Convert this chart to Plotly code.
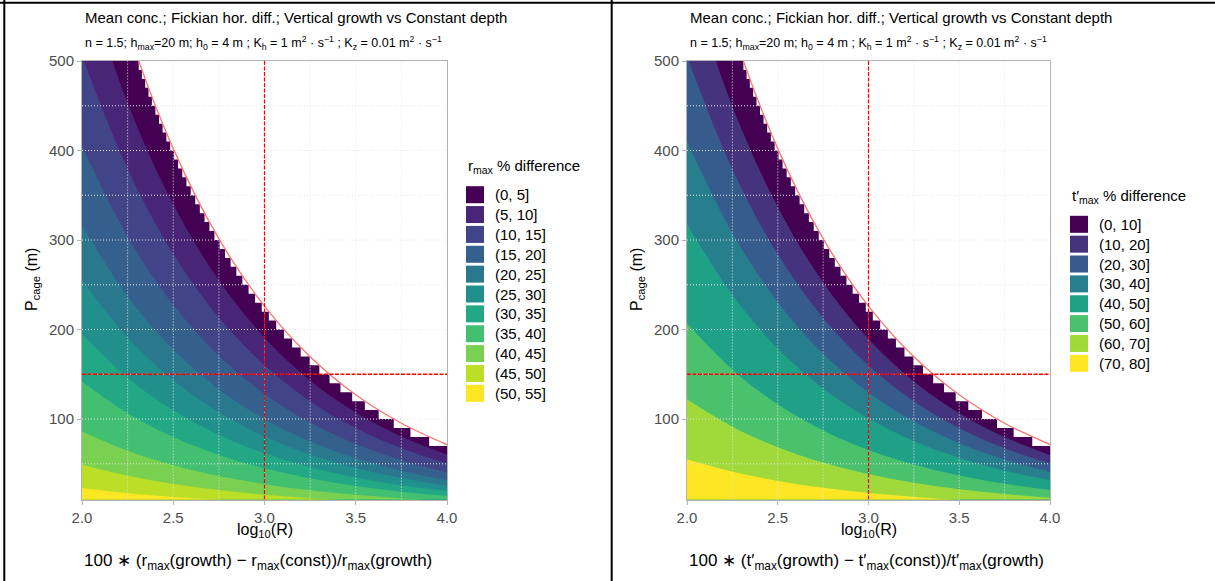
import numpy as np
import plotly.graph_objects as go

W, H = 1215, 581
FONT = "Liberation Sans, Arial, sans-serif"

# ---------------- data ----------------
X_RANGE = [2.0, 4.0]
P_RANGE = [10, 500]
X_TICKS = [2.0, 2.5, 3.0, 3.5, 4.0]
X_TICK_TEXT = ["2.0", "2.5", "3.0", "3.5", "4.0"]
P_TICKS = [100, 200, 300, 400, 500]
GRID_X = [2.25, 2.5, 2.75, 3.0, 3.25, 3.5, 3.75]
GRID_P = [50, 100, 150, 200, 250, 300, 350, 400, 450]
P_GRID_STEP = 10          # row height of the computation grid (staircase)
REF_X = 3.0               # dashed red reference lines
REF_P = 150

# x positions where band boundaries were read
X_PTS = [2.0, 2.25, 2.5, 2.75, 3.0, 3.25, 3.5, 3.75, 4.0]

# validity limit (red curve), P_cage at X_PTS
RED_P = [715, 536.2, 402.1, 301.5, 226.1, 169.6, 127.1, 95.3, 71.5]

# left panel: r_max % difference band boundaries (P_cage at X_PTS)
RMAX_B05 = [604, 453, 340, 255, 191, 143, 107.4, 80.5, 60.4]
RMAX_B10 = [506, 379.4, 284.5, 213.4, 160, 120, 90, 67.5, 50.6]
RMAX_B15 = [405, 303.7, 227.7, 170.8, 128.1, 96.0, 72.0, 54.0, 40.5]
RMAX_B20 = [316, 237.0, 177.7, 133.3, 99.9, 74.9, 56.2, 42.1, 31.6]
RMAX_B25 = [255, 191.2, 143.4, 107.5, 80.6, 60.5, 45.3, 34.0, 25.5]
RMAX_B30 = [195, 146.2, 109.7, 82.2, 61.7, 46.2, 34.7, 26.0, 19.5]
RMAX_B35 = [142, 106.5, 79.9, 59.9, 44.9, 33.7, 25.3, 18.9, 14.2]
RMAX_B40 = [86, 64.5, 48.4, 36.3, 27.2, 20.4, 15.3, 11.5, 8.6]
RMAX_B45 = [48.8, 36.6, 27.4, 20.6, 15.4, 11.6, 8.7, 6.5, 4.9]
RMAX_B50 = [23.0, 17.2, 12.9, 9.7, 7.3, 5.5, 4.1, 3.1, 2.3]
RMAX_LABELS = ["(0, 5]", "(5, 10]", "(10, 15]", "(15, 20]", "(20, 25]", "(25, 30]",
               "(30, 35]", "(35, 40]", "(40, 45]", "(45, 50]", "(50, 55]"]
RMAX_COLORS = ["#440154", "#482576", "#414487", "#35608D", "#2A788E", "#21908C",
               "#22A884", "#43BF71", "#7AD151", "#BBDF27", "#FDE725"]

# right panel: t'_max % difference band boundaries (P_cage at X_PTS)
TMAX_B10 = [599, 449.2, 336.8, 252.6, 189.4, 142.0, 106.5, 79.9, 59.9]
TMAX_B20 = [505, 378.7, 284.0, 213.0, 159.7, 119.8, 89.8, 67.3, 50.5]
TMAX_B30 = [410, 307.5, 230.6, 172.9, 129.7, 97.2, 72.9, 54.7, 41.0]
TMAX_B40 = [318, 238.5, 178.8, 134.1, 100.6, 75.4, 56.5, 42.4, 31.8]
TMAX_B50 = [207, 155.2, 116.4, 87.3, 65.5, 49.1, 36.8, 27.6, 20.7]
TMAX_B60 = [122, 91.5, 68.6, 51.4, 38.6, 28.9, 21.7, 16.3, 12.2]
TMAX_B70 = [55.0, 41.2, 30.9, 23.2, 17.4, 13.0, 9.8, 7.3, 5.5]
TMAX_LABELS = ["(0, 10]", "(10, 20]", "(20, 30]", "(30, 40]", "(40, 50]",
               "(50, 60]", "(60, 70]", "(70, 80]"]
TMAX_COLORS = ["#440154", "#46337E", "#365C8D", "#277F8E", "#1FA187",
               "#4AC16D", "#9FDA3A", "#FDE725"]

RMAX_BOUNDS = [RMAX_B05, RMAX_B10, RMAX_B15, RMAX_B20, RMAX_B25,
               RMAX_B30, RMAX_B35, RMAX_B40, RMAX_B45, RMAX_B50]
TMAX_BOUNDS = [TMAX_B10, TMAX_B20, TMAX_B30, TMAX_B40, TMAX_B50, TMAX_B60, TMAX_B70]

TITLE = "Mean conc.; Fickian hor. diff.; Vertical growth vs Constant depth"
SUBTITLE = ("n = 1.5; h<sub>max</sub>=20 m; h<sub>0</sub> = 4 m ; K<sub>h</sub> = 1 m<sup>2</sup> · s<sup>−1</sup> ; "
            "K<sub>z</sub> = 0.01 m<sup>2</sup> · s<sup>−1</sup>")
XTITLE = "log<sub>10</sub>(R)"
YTITLE = "P<sub>cage</sub> (m)"
CAPTION_L = "100 ∗ (r<sub>max</sub>(growth) − r<sub>max</sub>(const))/r<sub>max</sub>(growth)"
CAPTION_R = "100 ∗ (t′<sub>max</sub>(growth) − t′<sub>max</sub>(const))/t′<sub>max</sub>(growth)"
LEG_TITLE_L = "r<sub>max</sub> % difference"
LEG_TITLE_R = "t′<sub>max</sub> % difference"

# ---------------- helpers ----------------
def px(x):
    return x / W

def py(y):
    return 1 - y / H


def na_polygon():
    """Region of the computation grid without data (beyond the red limit)."""
    logred = np.log(np.array(RED_P, dtype=float))[::-1]
    xs_rev = np.array(X_PTS, dtype=float)[::-1]

    def x_edge(p):
        return float(np.interp(np.log(p), logred, xs_rev))

    xs, ys = [], []
    top = P_RANGE[1]
    while top > P_RANGE[0]:
        xe = x_edge(top)
        if xe >= X_RANGE[1]:
            break
        xs += [xe, xe]
        ys += [top, top - P_GRID_STEP]
        top -= P_GRID_STEP
    xs += [X_RANGE[1] + 0.1, X_RANGE[1] + 0.1, xs[0]]
    ys += [ys[-1], P_RANGE[1] + 30, P_RANGE[1] + 30]
    return xs, ys


fig = go.Figure()


def add_panel(xa, ya, bounds, colors):
    common = dict(xaxis=xa, yaxis=ya, showlegend=False, hoverinfo="skip")
    fig.add_trace(go.Scatter(x=X_PTS, y=RED_P, mode="lines", fill="tozeroy",
                             fillcolor=colors[0], line=dict(width=0, shape="spline"), **common))
    for b, col in zip(bounds, colors[1:]):
        fig.add_trace(go.Scatter(x=X_PTS, y=b, mode="lines", fill="tozeroy",
                                 fillcolor=col, line=dict(width=0, shape="spline"), **common))
    nx, ny = na_polygon()
    fig.add_trace(go.Scatter(x=nx, y=ny, mode="lines", fill="toself", fillcolor="white",
                             line=dict(width=0), **common))
    gx, gy = [], []
    for g in GRID_X:
        gx += [g, g, None]
        gy += [P_RANGE[0], P_RANGE[1], None]
    for g in GRID_P:
        gx += [X_RANGE[0], X_RANGE[1], None]
        gy += [g, g, None]
    fig.add_trace(go.Scatter(x=gx, y=gy, mode="lines",
                             line=dict(color="#E6E6E6", width=1, dash="1px,2px"), **common))
    fig.add_trace(go.Scatter(x=X_PTS, y=RED_P, mode="lines",
                             line=dict(color="#F8766D", width=1.3, shape="spline"), **common))
    fig.add_trace(go.Scatter(x=[REF_X, REF_X], y=P_RANGE, mode="lines",
                             line=dict(color="#FF0000", width=1.2, dash="4px,1.5px"), **common))
    fig.add_trace(go.Scatter(x=X_RANGE, y=[REF_P, REF_P], mode="lines",
                             line=dict(color="#FF0000", width=1.4, dash="4px,1.5px"), **common))


add_panel("x", "y", RMAX_BOUNDS, RMAX_COLORS)
add_panel("x2", "y2", TMAX_BOUNDS, TMAX_COLORS)

ax_common = dict(showgrid=False, zeroline=False, showline=True, mirror=True,
                 linecolor="#B3B3B3", linewidth=1, ticks="outside", ticklen=4,
                 tickcolor="#B3B3B3", tickwidth=1, automargin=False,
                 tickfont=dict(size=15, color="#4D4D4D", family=FONT))

YDOM = [py(499.6), py(61)]
fig.update_layout(
    width=W, height=H, autosize=False,
    margin=dict(l=0, r=0, t=0, b=0, pad=0, autoexpand=False),
    paper_bgcolor="white", plot_bgcolor="white",
    font=dict(family=FONT, color="black"),
    xaxis=dict(domain=[px(82), px(447)], range=X_RANGE, tickvals=X_TICKS,
               ticktext=X_TICK_TEXT, anchor="y", **ax_common),
    yaxis=dict(domain=YDOM, range=P_RANGE, tickvals=P_TICKS, anchor="x", **ax_common),
    xaxis2=dict(domain=[px(687), px(1050)], range=X_RANGE, tickvals=X_TICKS,
                ticktext=X_TICK_TEXT, anchor="y2", **ax_common),
    yaxis2=dict(domain=YDOM, range=P_RANGE, tickvals=P_TICKS, anchor="x2", **ax_common),
)

ann = []
shapes = []


def text(x, y, t, size, xanchor="left", color="black", angle=0):
    ann.append(dict(x=px(x), y=py(y), xref="paper", yref="paper", text=t, showarrow=False,
                    xanchor=xanchor, yanchor="middle", textangle=angle,
                    font=dict(size=size, color=color, family=FONT)))


for x0, x_plot_l, x_plot_r, cap in [(83, 82, 447, CAPTION_L), (688, 687, 1050, CAPTION_R)]:
    text(x0, 17, TITLE, 15)
    text(x0, 43, SUBTITLE, 12.5)
    text((x_plot_l + x_plot_r) / 2, 530, XTITLE, 16, xanchor="center")
    text(x_plot_l - 50, 280, YTITLE, 16, xanchor="center", angle=-90)
    text(x_plot_l, 562, cap, 17)


def legend(x0, y_title, y_first, title, labels, colors):
    text(x0, y_title, title, 15)
    for i, (lab, col) in enumerate(zip(labels, colors)):
        yc = y_first + i * 19.86
        shapes.append(dict(type="rect", xref="paper", yref="paper",
                           x0=px(x0), x1=px(x0 + 18), y0=py(yc + 8.5), y1=py(yc - 8.5),
                           fillcolor=col, line=dict(width=0)))
        text(x0 + 27, yc, lab, 15)


legend(466, 166, 194.7, LEG_TITLE_L, RMAX_LABELS, RMAX_COLORS)
legend(1070, 196, 224.3, LEG_TITLE_R, TMAX_LABELS, TMAX_COLORS)

for xl in [4.3, 611.7]:
    shapes.append(dict(type="line", xref="paper", yref="paper", x0=px(xl), x1=px(xl),
                       y0=0, y1=1, line=dict(color="black", width=2)))
shapes.append(dict(type="line", xref="paper", yref="paper", x0=0, x1=1,
                   y0=py(2.7), y1=py(2.7), line=dict(color="black", width=2)))

fig.update_layout(annotations=ann, shapes=shapes)
fig.write_html("out.html", post_script="document.body.style.margin='0px';")
